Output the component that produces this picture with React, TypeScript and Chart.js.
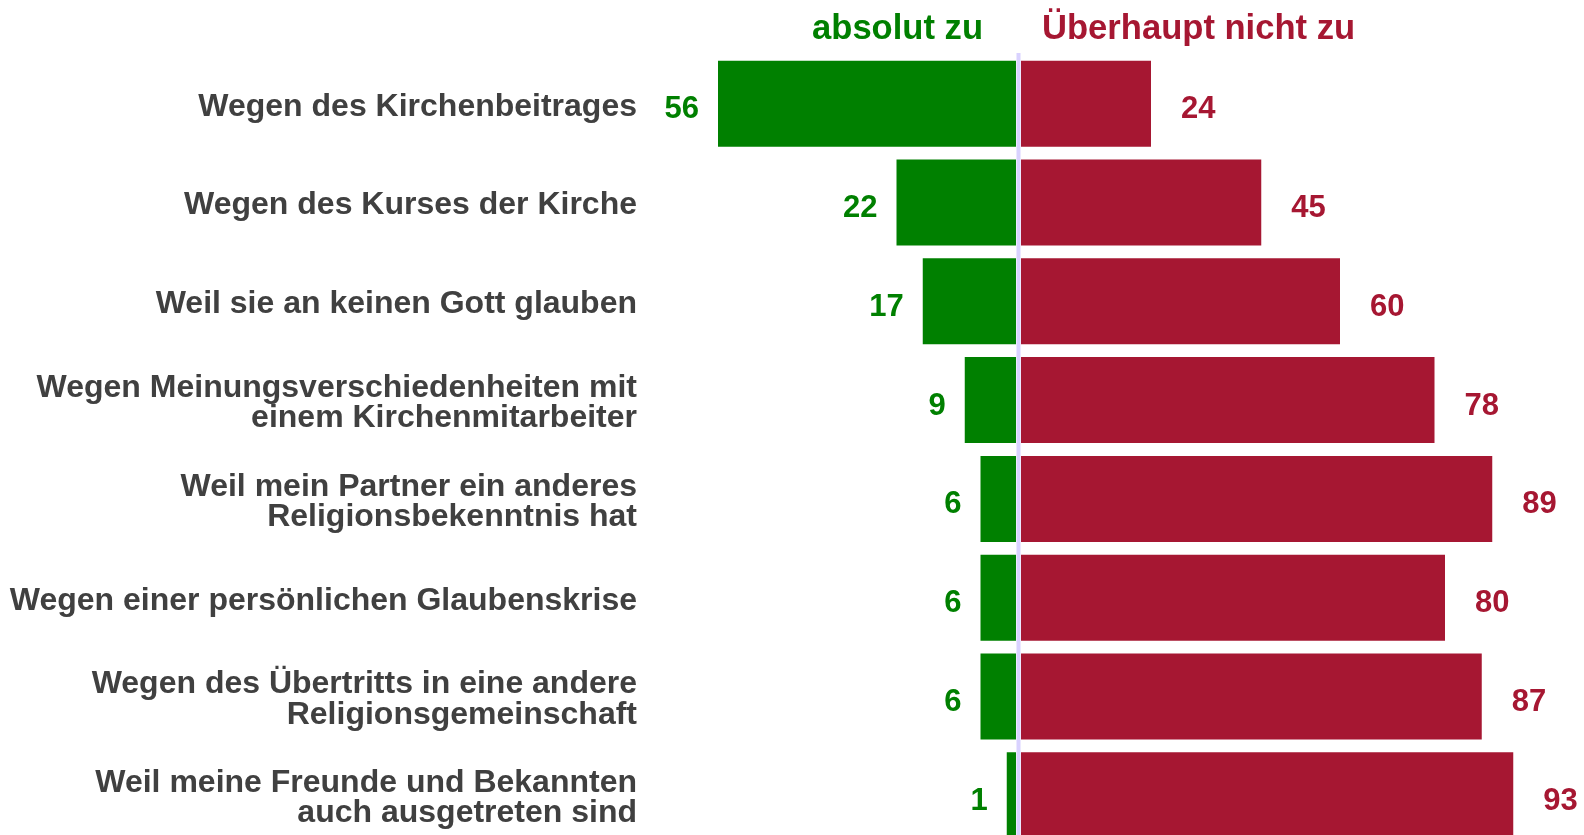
import React, { useEffect, useRef } from "react";
import { Chart, registerables } from "chart.js";

Chart.register(...registerables);

const categories: (string | string[])[] = [
  "Wegen des Kirchenbeitrages",
  "Wegen des Kurses der Kirche",
  "Weil sie an keinen Gott glauben",
  ["Wegen Meinungsverschiedenheiten mit", "einem Kirchenmitarbeiter"],
  ["Weil mein Partner ein anderes", "Religionsbekenntnis hat"],
  "Wegen einer persönlichen Glaubenskrise",
  ["Wegen des Übertritts in eine andere", "Religionsgemeinschaft"],
  ["Weil meine Freunde und Bekannten", "auch ausgetreten sind"],
];

const absolutZu: number[] = [56, 22, 17, 9, 6, 6, 6, 1];
const ueberhauptNichtZu: number[] = [24, 45, 60, 78, 89, 80, 87, 93];

const seriesNames = ["absolut zu", "Überhaupt nicht zu"];

const GREEN = "#008000";
const RED = "#a61732";
const FONT = "'Liberation Sans', Arial, sans-serif";

const W = 1584;
const H = 880;

// layout (pixels)
const AREA_LEFT = 699;
const AREA_RIGHT = 1552;
const AREA_TOP = 54.3;
const AREA_BOTTOM = 844.7;
const PX_PER_UNIT = 5.25;
const ZERO_GREEN = 1014;
const ZERO_RED = 1023;

export default function App() {
  const ref = useRef<HTMLCanvasElement | null>(null);

  useEffect(() => {
    if (!ref.current) return;

    const overlay = {
      id: "overlay",
      afterDatasetsDraw(chart: any) {
        const ctx = chart.ctx;
        const mid =
          (chart.scales.xg.getPixelForValue(0) + chart.scales.xr.getPixelForValue(0)) / 2;
        ctx.save();
        // divider line
        ctx.fillStyle = "#d9d2ff";
        ctx.fillRect(mid - 2, 53, 4, chart.height - 53);
        // value labels
        ctx.font = `bold 31px ${FONT}`;
        ctx.textBaseline = "middle";
        chart.getDatasetMeta(0).data.forEach((bar: any, i: number) => {
          ctx.fillStyle = GREEN;
          ctx.textAlign = "right";
          ctx.fillText(String(absolutZu[i]), bar.x - 21, bar.y + 6);
        });
        chart.getDatasetMeta(1).data.forEach((bar: any, i: number) => {
          ctx.fillStyle = RED;
          ctx.textAlign = "left";
          ctx.fillText(String(ueberhauptNichtZu[i]), bar.x + 32, bar.y + 6);
        });
        // header labels
        ctx.font = `bold 34.6px ${FONT}`;
        ctx.textBaseline = "alphabetic";
        ctx.fillStyle = GREEN;
        ctx.textAlign = "right";
        ctx.fillText(seriesNames[0], mid - 35.5, 39);
        ctx.fillStyle = RED;
        ctx.textAlign = "left";
        ctx.fillText(seriesNames[1], mid + 23.5, 39);
        ctx.restore();
      },
    };

    const common = {
      stacked: true,
      display: false,
    };

    const chart = new Chart(ref.current, {
      type: "bar",
      data: {
        labels: categories as any,
        datasets: [
          {
            label: seriesNames[0],
            data: absolutZu.map((v) => -v),
            xAxisID: "xg",
            backgroundColor: GREEN,
            borderWidth: 0,
            inflateAmount: 2,
            barPercentage: 82 / 98.8,
            categoryPercentage: 1,
          },
          {
            label: seriesNames[1],
            data: ueberhauptNichtZu,
            xAxisID: "xr",
            backgroundColor: RED,
            borderWidth: 0,
            inflateAmount: 2,
            barPercentage: 82 / 98.8,
            categoryPercentage: 1,
          },
        ],
      },
      options: {
        indexAxis: "y",
        responsive: false,
        animation: false,
        devicePixelRatio: 1,
        layout: {
          padding: { top: AREA_TOP, bottom: H - AREA_BOTTOM, right: W - AREA_RIGHT, left: 0 },
        },
        plugins: {
          legend: { display: false },
          tooltip: { enabled: false },
          title: { display: false },
        },
        scales: {
          xg: {
            ...common,
            type: "linear",
            axis: "x",
            min: -(ZERO_GREEN - AREA_LEFT) / PX_PER_UNIT,
            max: (AREA_RIGHT - ZERO_GREEN) / PX_PER_UNIT,
          },
          xr: {
            ...common,
            type: "linear",
            axis: "x",
            min: -(ZERO_RED - AREA_LEFT) / PX_PER_UNIT,
            max: (AREA_RIGHT - ZERO_RED) / PX_PER_UNIT,
          },
          y: {
            stacked: true,
            offset: true,
            grid: { display: false, drawTicks: false },
            border: { display: false },
            afterFit: (s: any) => {
              s.width = AREA_LEFT;
              s.paddingTop = 0;
              s.paddingBottom = 0;
            },
            ticks: {
              padding: 62,
              labelOffset: 3,
              color: "#404040",
              font: { family: FONT, size: 32, weight: "bold", lineHeight: 0.95 },
            },
          },
        },
      },
      plugins: [overlay],
    } as any);

    return () => chart.destroy();
  }, []);

  return (
    <div style={{ position: "absolute", left: 0, top: 0, width: W, height: H }}>
      <canvas ref={ref} width={W} height={H} style={{ width: W, height: H, display: "block" }} />
    </div>
  );
}
